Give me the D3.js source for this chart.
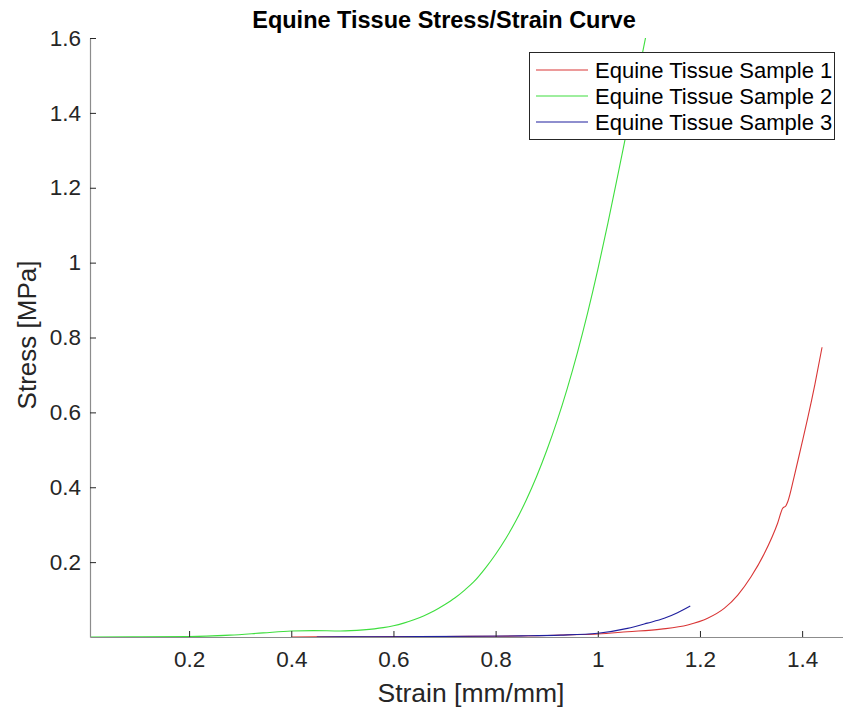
<!DOCTYPE html>
<html>
<head>
<meta charset="utf-8">
<script src="https://cdn.jsdelivr.net/npm/d3@7"></script>
<style>
    body { margin: 0; background: #fff; }
    text { font-family: "Liberation Sans", Arial, Helvetica, sans-serif; fill: #262626; }
</style>
</head>
<body>
<div id="stress_chart"></div>
<script>
// values
var tickX = [0.2, 0.4, 0.6, 0.8, 1, 1.2, 1.4]
var tickY = [0.2, 0.4, 0.6, 0.8, 1, 1.2, 1.4, 1.6]

var seriesNames = ['Equine Tissue Sample 1', 'Equine Tissue Sample 2', 'Equine Tissue Sample 3']
var seriesColors = ['#d93636', '#3ede3e', '#1f1f9e']

var strain1 = [0.40, 0.5, 0.6, 0.7, 0.8, 0.9, 0.95, 1.0, 1.058, 1.124, 1.176, 1.215, 1.248, 1.274, 1.3, 1.326, 1.352, 1.362, 1.368, 1.372, 1.385, 1.398, 1.411, 1.425, 1.439]
var stress1 = [0, 0.0005, 0.001, 0.0015, 0.002, 0.004, 0.006, 0.008, 0.014, 0.021, 0.032, 0.050, 0.077, 0.112, 0.161, 0.223, 0.304, 0.344, 0.350, 0.362, 0.432, 0.508, 0.585, 0.675, 0.774]

var strain2 = [0.006, 0.09, 0.2, 0.28, 0.345, 0.4, 0.443, 0.496, 0.541, 0.58, 0.6, 0.62, 0.64, 0.66, 0.68, 0.70, 0.72, 0.74, 0.757, 0.78, 0.80, 0.82, 0.84, 0.86, 0.88, 0.90, 0.92, 0.94, 0.96, 0.98, 1.0, 1.02, 1.04, 1.06, 1.08, 1.10]
var stress2 = [0, 0.0005, 0.001, 0.005, 0.011, 0.016, 0.017, 0.016, 0.019, 0.025, 0.030, 0.037, 0.046, 0.057, 0.070, 0.086, 0.104, 0.126, 0.147, 0.184, 0.221, 0.263, 0.311, 0.366, 0.428, 0.498, 0.576, 0.663, 0.759, 0.865, 0.981, 1.107, 1.239, 1.373, 1.509, 1.645]

var strain3 = [0.45, 0.55, 0.65, 0.75, 0.85, 0.927, 1.0, 1.058, 1.097, 1.13, 1.156, 1.181]
var stress3 = [0, 0.0005, 0.001, 0.002, 0.003, 0.005, 0.01, 0.023, 0.037, 0.05, 0.065, 0.083]

var width = 843, height = 712

var svg = d3.select("#stress_chart")
    .append("svg")
    .attr("width", width)
    .attr("height", height)

var x = d3.scaleLinear()
    .domain([0.006, 1.48])
    .range([90, 843]);

var y = d3.scaleLinear()
    .domain([0, 1.6])
    .range([637, 38]);

svg.append("clipPath").attr("id", "plotclip")
    .append("rect")
    .attr("x", 90).attr("y", 38)
    .attr("width", 753).attr("height", 599)

// lines, sample 1 first so blue ends up on top
var data = [
    d3.zip(strain1, stress1),
    d3.zip(strain2, stress2),
    d3.zip(strain3, stress3)
]

var line = d3.line()
    .x(function(d) { return x(d[0]); })
    .y(function(d) { return y(d[1]); })
    .curve(d3.curveMonotoneX)

svg.append("g")
    .attr("clip-path", "url(#plotclip)")
    .selectAll("path")
    .data(data)
    .enter()
    .append("path")
    .attr("d", line)
    .attr("fill", "none")
    .attr("stroke", function(d, i) { return seriesColors[i]; })
    .attr("stroke-width", 1.1)

// X axis, ticks pointing in
var xAxis = svg.append("g")
    .attr("transform", "translate(0,637)")
    .call(d3.axisBottom(x).tickValues(tickX).tickSizeInner(-6).tickSizeOuter(0).tickPadding(14).tickFormat(d3.format("")))
xAxis.select(".domain").attr("stroke", "#8c8c8c").attr("stroke-width", 1.2)
xAxis.selectAll(".tick line").attr("stroke", "#262626")
xAxis.selectAll(".tick text").attr("font-size", 22.5).attr("fill", "#262626")
    .attr("font-family", "Liberation Sans, Arial, sans-serif")

// Y axis
var yAxis = svg.append("g")
    .attr("transform", "translate(90,0)")
    .call(d3.axisLeft(y).tickValues(tickY).tickSizeInner(-6).tickSizeOuter(0).tickPadding(9).tickFormat(d3.format("")))
yAxis.select(".domain").attr("stroke", "#8c8c8c").attr("stroke-width", 1.2)
yAxis.selectAll(".tick line").attr("stroke", "#262626")
yAxis.selectAll(".tick text").attr("font-size", 22.5).attr("fill", "#262626")
    .attr("font-family", "Liberation Sans, Arial, sans-serif")

// title and axis labels
svg.append("text")
    .attr("x", 444)
    .attr("y", 28)
    .attr("text-anchor", "middle")
    .attr("font-size", 23.5)
    .attr("font-weight", "bold")
    .style("fill", "#000")
    .text("Equine Tissue Stress/Strain Curve")

svg.append("text")
    .attr("x", 471)
    .attr("y", 702)
    .attr("text-anchor", "middle")
    .attr("font-size", 26.5)
    .text("Strain [mm/mm]")

svg.append("text")
    .attr("transform", "translate(36,335) rotate(-90)")
    .attr("text-anchor", "middle")
    .attr("font-size", 26)
    .text("Stress [MPa]")

// legend
var legend = svg.append("g")
legend.append("rect")
    .attr("x", 529.5).attr("y", 52.5)
    .attr("width", 305).attr("height", 87)
    .attr("fill", "#fff")
    .attr("stroke", "#262626")
    .attr("stroke-width", 1)

var rows = legend.selectAll(".row")
    .data(seriesNames)
    .enter()
    .append("g")
    .attr("class", "row")
    .attr("transform", function(d, i) { return "translate(0," + (70 + i * 26) + ")"; })

rows.append("line")
    .attr("x1", 536).attr("x2", 588)
    .attr("stroke", function(d, i) { return seriesColors[i]; })
    .attr("stroke-width", 1.1)

rows.append("text")
    .attr("x", 595)
    .attr("dy", "0.35em")
    .attr("font-size", 22)
    .style("fill", "#000")
    .text(function(d) { return d; })
</script>
</body>
</html>
